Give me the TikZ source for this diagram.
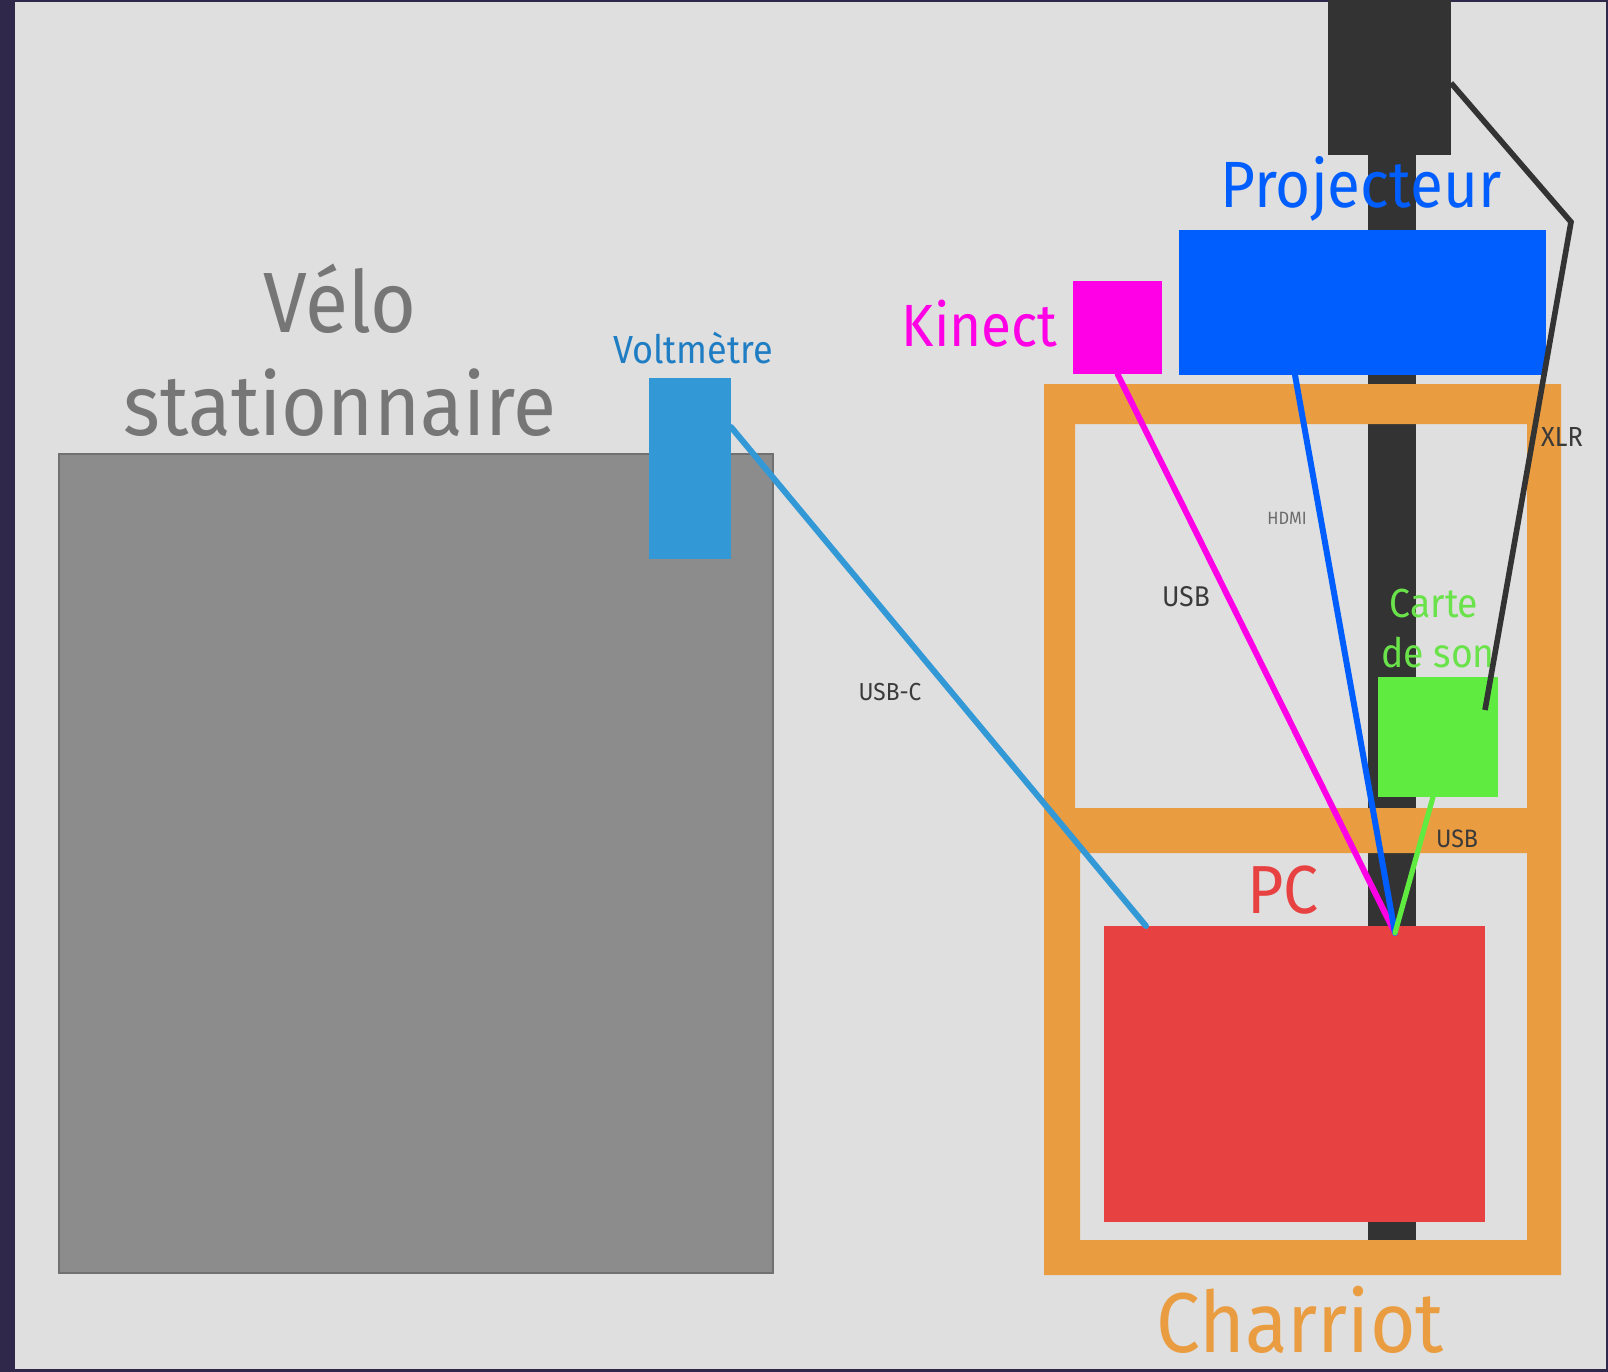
\documentclass[tikz,border=0pt]{standalone}
\usepackage{fontspec}
\setmainfont{Fira Sans}[FakeStretch=0.92]
\usetikzlibrary{positioning,fit}
\definecolor{bordure}{RGB}{47,40,75}
\definecolor{fond}{RGB}{223,223,223}
\definecolor{velogris}{RGB}{140,140,140}
\definecolor{velotexte}{RGB}{118,118,118}
\definecolor{voltbleu}{RGB}{51,153,214}
\definecolor{volttexte}{RGB}{31,125,196}
\definecolor{kinectrose}{RGB}{255,0,230}
\definecolor{projbleu}{RGB}{0,94,255}
\definecolor{orange}{RGB}{234,156,64}
\definecolor{pcrouge}{RGB}{232,65,65}
\definecolor{sonvert}{RGB}{95,235,64}
\definecolor{sontexte}{RGB}{106,227,75}
\definecolor{poteau}{RGB}{51,51,51}
\definecolor{etiquette}{RGB}{58,58,58}

\newcommand{\taille}[1]{\fontsize{#1}{1.2\dimexpr#1pt\relax}\selectfont}

\begin{document}
\begin{tikzpicture}[x=0.5pt,y=-0.5pt,
  bloc/.style={inner sep=0pt,outer sep=0pt},
  titre/.style={anchor=base,inner sep=0pt},
  etiq/.style={anchor=base,inner sep=0pt,text=etiquette},
  cable/.style={line width=3pt,line cap=round}]
  \useasboundingbox (0,0) rectangle (1608,1372);
  \fill[bordure] (0,0) rectangle (1608,1372);
  \fill[fond] (15,2) rectangle (1606,1369);

  % velo et voltmetre
  \node[bloc,fit={(59,454)(773,1273)},fill=velogris,draw=velogris!80!black,line width=0.6pt] (velo) {};
  \node[titre,text=velotexte,font=\taille{42.8}] (velot1) at (340,332) {Vélo};
  \node[titre,text=velotexte,font=\taille{42.8}] (velot2) at (340,435) {stationnaire};
  \node[bloc,fit={(649,378)(731,559)},fill=voltbleu] (volt) {};
  \node[titre,text=volttexte,font=\taille{19.6}] (voltt) at (693,363) {Voltmètre};

  % poteau
  \node[bloc,fit={(1328,0)(1451,155)},fill=poteau] (poletop) {};
  \node[bloc,fit={(1368,155)(1416,1240)},fill=poteau] (pole) {};

  % projecteur et kinect
  \node[titre,text=projbleu,font=\taille{32.7}] (projt) at (1361,207) {Projecteur};
  \node[bloc,fit={(1179,230)(1546,375)},fill=projbleu] (proj) {};
  \node[bloc,fit={(1073,281)(1162,374)},fill=kinectrose] (kinect) {};
  \node[titre,anchor=base east,text=kinectrose,font=\taille{29.8}] (kinectt) at (1058,346) {Kinect};

  % charriot
  \fill[orange,even odd rule] (1044,384) rectangle (1561,1275)
    (1075,424) rectangle (1527,808) (1080,853) rectangle (1527,1240);
  \node[titre,text=orange,font=\taille{42.5}] (charriot) at (1300,1352) {Charriot};

  % carte de son et PC
  \node[bloc,fit={(1378,677)(1498,797)},fill=sonvert] (son) {};
  \node[titre,text=sontexte,font=\taille{20.3}] (sont1) at (1434,617) {Carte};
  \node[titre,text=sontexte,font=\taille{20.3}] (sont2) at (1438,667) {de son};
  \node[bloc,fit={(1104,926)(1485,1222)},fill=pcrouge] (pc) {};
  \node[titre,text=pcrouge,font=\taille{34}] (pct) at (1283,913) {PC};

  % cables
  \coordinate (pcport) at (1395,933);
  \coordinate (xlrcoude) at (1571,222);
  \draw[cable,voltbleu] ([yshift=-24.5pt]volt.north east) -- ([xshift=21pt]pc.north west);
  \draw[cable,kinectrose] (kinect.south) -- (pcport);
  \draw[cable,projbleu] ([xshift=58pt]proj.south west) -- (pcport);
  \draw[cable,sonvert,line width=2.6pt] ([xshift=-2.5pt]son.south) -- (pcport);
  \draw[cable,poteau,line width=2.8pt,line cap=butt] ([yshift=-41.5pt]poletop.north east) -- (xlrcoude)
    -- ([xshift=-6.5pt,yshift=-16.5pt]son.north east);

  % etiquettes
  \node[etiq,font=\taille{12.3}] (usbc) at (890,700) {USB-C};
  \node[etiq,font=\taille{14.3}] (usbk) at (1186,606) {USB};
  \node[etiq,text=etiquette!75,font=\taille{8.9}] (hdmi) at (1287,524) {HDMI};
  \node[etiq,font=\taille{13.8}] (xlr) at (1562,446) {XLR};
  \node[etiq,font=\taille{12.6}] (usbs) at (1457,847) {USB};
\end{tikzpicture}
\end{document}
